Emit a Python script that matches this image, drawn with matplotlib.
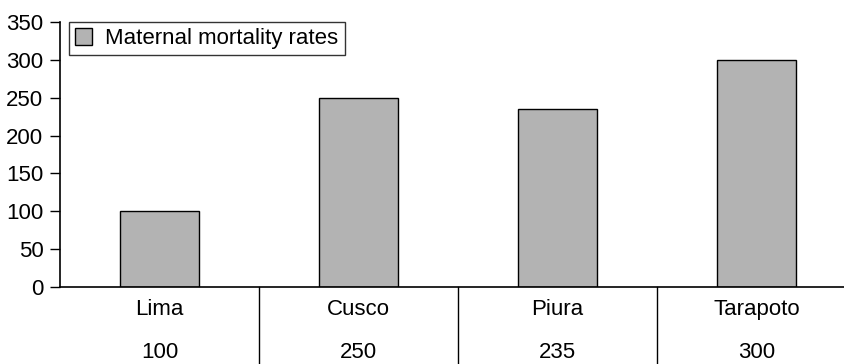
import matplotlib
matplotlib.use("Agg")
import matplotlib.pyplot as plt
from matplotlib.patches import Patch

plt.rcParams['font.family'] = ['Liberation Sans', 'DejaVu Sans']

categories = ["Lima", "Cusco", "Piura", "Tarapoto"]
values = [100, 250, 235, 300]
series_name = "Maternal mortality rates"
yticks = [0, 50, 100, 150, 200, 250, 300, 350]

W, H = 845, 364
fig = plt.figure(figsize=(W / 100, H / 100), dpi=100)
x0, x1 = 60, 845
ytop, ybot = 22, 287
ax = fig.add_axes([x0 / W, (H - ybot) / H, (x1 - x0) / W, (ybot - ytop) / H])

FS = 16
cell = 199.0
xmax = -0.5 + (x1 - x0) / cell
xs = list(range(len(categories)))
ax.bar(xs, values, width=0.4, color="#b3b3b3", edgecolor="black", linewidth=1.0, zorder=2)
ax.set_xlim(-0.5, xmax)
ax.set_ylim(0, 350)
ax.set_yticks(yticks)
ax.tick_params(axis='y', direction='out', length=7, width=1, labelsize=FS, pad=5)
ax.set_xticks([])
for s in ["top", "right"]:
    ax.spines[s].set_visible(False)
ax.spines["left"].set_linewidth(1.2)
ax.spines["bottom"].set_linewidth(1.2)

# table below axis
trans = ax.get_xaxis_transform()
for i in range(1, len(categories)):
    ax.plot([i - 0.5, i - 0.5], [0, -0.5], transform=trans, color="black", lw=1.0, clip_on=False)
for i, (c, v) in enumerate(zip(categories, values)):
    ax.annotate(c, (i, 0), xycoords=trans, xytext=(0, -28), textcoords="offset pixels",
                ha="center", va="baseline", fontsize=FS)
    ax.annotate(str(v), (i, 0), xycoords=trans, xytext=(0, -71), textcoords="offset pixels",
                ha="center", va="baseline", fontsize=FS)

leg = ax.legend(handles=[Patch(facecolor="#b3b3b3", edgecolor="black", label=series_name)],
                loc="upper left", bbox_to_anchor=(9 / (x1 - x0), 1.0), fontsize=16, frameon=True,
                fancybox=False, edgecolor="black", handlelength=0.75, handleheight=0.75,
                handletextpad=0.6, borderpad=0.28, borderaxespad=0)
leg.get_frame().set_linewidth(1.0)

fig.savefig("out.png", dpi=100)
